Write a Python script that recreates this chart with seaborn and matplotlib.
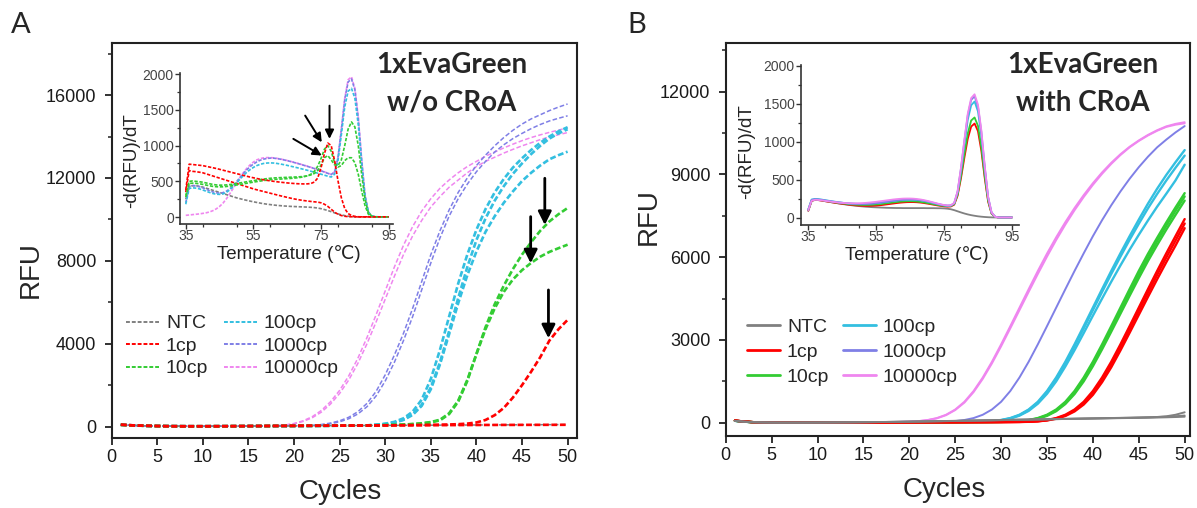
import matplotlib
matplotlib.use("Agg")
import matplotlib.pyplot as plt
import seaborn as sns
import pandas as pd
from matplotlib.lines import Line2D
from matplotlib.ticker import MultipleLocator

sns.set_theme(style="ticks")
plt.rcParams['font.family'] = ['Liberation Sans', 'DejaVu Sans']

# ---------------- data ----------------
cycles = list(range(1, 51))
temps = list(range(35, 96))
samples = ["NTC", "1cp", "10cp", "100cp", "1000cp", "10000cp"]
colors = {"NTC": "#808080", "1cp": "#ff0000", "10cp": "#33cc33",
          "100cp": "#33bfe0", "1000cp": "#7f7fe6", "10000cp": "#ef86ef"}

# panel A amplification (w/o CRoA)
a_ntc = [95, 70, 50, 38, 30, 25, 22, 20, 20, 20,
         21, 22, 24, 26, 28, 30, 32, 34, 36, 38,
         40, 42, 44, 46, 48, 50, 52, 54, 56, 58,
         60, 62, 64, 66, 68, 70, 72, 74, 76, 78,
         80, 82, 84, 86, 88, 90, 92, 94, 96, 100]
a_1cp_neg = [90, 68, 48, 36, 28, 22, 20, 18, 18, 18,
             19, 20, 22, 24, 26, 28, 30, 32, 34, 36,
             38, 40, 42, 44, 46, 48, 50, 52, 55, 58,
             60, 62, 64, 66, 68, 70, 72, 74, 76, 78,
             80, 80, 82, 82, 84, 84, 85, 86, 86, 88]
a_1cp_pos = [90, 68, 48, 36, 28, 22, 20, 18, 18, 18,
             19, 20, 22, 24, 26, 28, 30, 32, 34, 36,
             38, 40, 42, 44, 46, 48, 50, 53, 56, 60,
             64, 68, 73, 78, 84, 92, 102, 118, 145, 200,
             320, 550, 900, 1400, 2000, 2650, 3350, 4150, 4700, 5150]
a_10cp_1 = [85, 64, 46, 34, 27, 22, 19, 17, 17, 17,
            18, 19, 21, 23, 25, 27, 29, 31, 33, 35,
            37, 39, 41, 43, 46, 49, 53, 58, 64, 72,
            82, 96, 118, 150, 205, 300, 600, 1200, 2200, 3500,
            4800, 5900, 6800, 7600, 8300, 8900, 9450, 9900, 10250, 10550]
a_10cp_2 = [85, 64, 46, 34, 27, 22, 19, 17, 17, 17,
            18, 19, 21, 23, 25, 27, 29, 31, 33, 35,
            37, 39, 41, 43, 46, 49, 53, 58, 64, 72,
            84, 100, 125, 160, 220, 330, 640, 1250, 2250, 3500,
            4700, 5700, 6500, 7100, 7550, 7900, 8200, 8430, 8610, 8780]
a_100cp_1 = [88, 66, 47, 35, 27, 22, 19, 17, 16, 16,
             17, 18, 19, 20, 22, 24, 26, 28, 30, 32,
             34, 36, 38, 41, 44, 48, 53, 60, 90, 140,
             230, 400, 720, 1300, 2300, 3700, 5300, 6900, 8300, 9500,
             10500, 11300, 11950, 12500, 12950, 13350, 13700, 14000, 14250, 14450]
a_100cp_2 = [88, 66, 47, 35, 27, 22, 19, 17, 16, 16,
             17, 18, 19, 20, 22, 24, 26, 28, 30, 32,
             34, 36, 38, 41, 44, 48, 52, 58, 82, 125,
             200, 340, 600, 1050, 1900, 3100, 4600, 6200, 7700, 9000,
             10050, 10900, 11600, 12200, 12700, 13150, 13550, 13900, 14150, 14350]
a_100cp_3 = [88, 66, 47, 35, 27, 22, 19, 17, 16, 16,
             17, 18, 19, 20, 22, 24, 26, 28, 30, 32,
             34, 36, 38, 41, 44, 47, 51, 56, 80, 120,
             190, 320, 560, 1000, 1800, 3000, 4450, 5950, 7300, 8450,
             9400, 10150, 10800, 11350, 11850, 12250, 12600, 12900, 13100, 13270]
a_1000cp_1 = [85, 62, 44, 33, 26, 21, 18, 16, 15, 15,
              16, 17, 18, 20, 22, 25, 28, 32, 37, 43,
              50, 60, 100, 170, 280, 450, 720, 1120, 1700, 2500,
              3450, 4500, 5700, 7000, 8300, 9450, 10450, 11300, 12000, 12600,
              13100, 13550, 13950, 14300, 14600, 14850, 15050, 15250, 15420, 15570]
a_1000cp_2 = [85, 62, 44, 33, 26, 21, 18, 16, 15, 15,
              16, 17, 18, 20, 22, 25, 28, 32, 36, 41,
              47, 55, 85, 140, 230, 380, 610, 960, 1480, 2200,
              3100, 4150, 5300, 6600, 7900, 9100, 10150, 11000, 11700, 12300,
              12800, 13250, 13600, 13900, 14150, 14380, 14580, 14750, 14880, 15000]
a_10000cp_1 = [85, 62, 44, 33, 26, 21, 18, 16, 15, 15,
               16, 17, 19, 21, 24, 28, 33, 45, 75, 150,
               280, 480, 780, 1200, 1750, 2450, 3300, 4300, 5400, 6550,
               7700, 8750, 9650, 10400, 11000, 11500, 11900, 12250, 12550, 12800,
               13050, 13250, 13450, 13630, 13800, 13950, 14080, 14200, 14310, 14420]
a_10000cp_2 = [85, 62, 44, 33, 26, 21, 18, 16, 15, 15,
               16, 17, 19, 21, 24, 28, 32, 42, 68, 130,
               250, 430, 700, 1090, 1600, 2250, 3050, 4000, 5050, 6150,
               7250, 8300, 9200, 9950, 10600, 11100, 11550, 11900, 12250, 12550,
               12800, 13000, 13200, 13380, 13550, 13700, 13850, 13980, 14090, 14190]

# panel B amplification (with CRoA)
b_ntc_1 = [70, 40, 20, 12, 8, 6, 6, 6, 7, 8,
           10, 12, 14, 17, 20, 23, 27, 31, 35, 40,
           45, 50, 55, 60, 66, 72, 78, 84, 90, 96,
           102, 108, 114, 120, 126, 132, 138, 144, 150, 156,
           162, 168, 174, 180, 188, 196, 210, 235, 290, 380]
b_ntc_2 = [65, 38, 19, 11, 8, 6, 6, 6, 7, 8,
           10, 12, 14, 17, 20, 23, 27, 31, 35, 40,
           45, 50, 55, 60, 66, 72, 78, 84, 90, 96,
           102, 108, 114, 120, 126, 132, 138, 143, 148, 153,
           158, 163, 168, 173, 178, 184, 190, 198, 208, 220]
b_ntc_3 = [68, 39, 20, 12, 8, 6, 6, 6, 7, 8,
           10, 12, 14, 17, 20, 24, 28, 32, 37, 42,
           47, 52, 58, 64, 70, 76, 82, 88, 94, 100,
           106, 112, 118, 124, 130, 136, 142, 148, 154, 160,
           166, 172, 178, 184, 190, 198, 207, 218, 236, 262]
b_1cp_1 = [80, 45, 22, 12, 7, 5, 4, 4, 4, 5,
           6, 7, 8, 9, 10, 11, 12, 13, 14, 15,
           16, 17, 18, 19, 20, 21, 22, 23, 24, 26,
           28, 32, 40, 60, 100, 170, 290, 480, 760, 1150,
           1640, 2210, 2840, 3500, 4170, 4840, 5500, 6140, 6760, 7380]
b_1cp_2 = [78, 44, 22, 12, 7, 5, 4, 4, 4, 5,
           6, 7, 8, 9, 10, 11, 12, 13, 14, 15,
           16, 17, 18, 19, 20, 21, 22, 23, 24, 25,
           27, 30, 37, 55, 90, 155, 265, 445, 710, 1080,
           1560, 2120, 2740, 3390, 4050, 4710, 5360, 5990, 6600, 7220]
b_1cp_3 = [76, 43, 21, 12, 7, 5, 4, 4, 4, 5,
           6, 7, 8, 9, 10, 11, 12, 13, 14, 15,
           16, 17, 18, 19, 20, 21, 22, 23, 24, 25,
           27, 29, 35, 52, 85, 145, 245, 410, 660, 1010,
           1470, 2010, 2620, 3260, 3910, 4560, 5200, 5820, 6420, 7050]
b_10cp_1 = [75, 42, 21, 12, 7, 5, 4, 4, 4, 5,
            6, 7, 8, 9, 10, 11, 12, 13, 14, 15,
            16, 17, 18, 19, 20, 22, 24, 26, 29, 33,
            40, 60, 100, 170, 290, 480, 760, 1150, 1640, 2210,
            2840, 3500, 4170, 4840, 5500, 6120, 6700, 7260, 7800, 8320]
b_10cp_2 = [74, 42, 21, 12, 7, 5, 4, 4, 4, 5,
            6, 7, 8, 9, 10, 11, 12, 13, 14, 15,
            16, 17, 18, 19, 20, 22, 24, 26, 28, 32,
            38, 55, 92, 158, 270, 450, 720, 1090, 1570, 2130,
            2750, 3400, 4060, 4720, 5370, 5990, 6580, 7140, 7680, 8200]
b_10cp_3 = [73, 41, 20, 12, 7, 5, 4, 4, 4, 5,
            6, 7, 8, 9, 10, 11, 12, 13, 14, 15,
            16, 17, 18, 19, 20, 22, 24, 26, 28, 31,
            36, 52, 86, 148, 250, 420, 680, 1040, 1500, 2050,
            2660, 3300, 3950, 4600, 5240, 5860, 6440, 7000, 7530, 8050]
b_100cp_1 = [72, 40, 20, 11, 7, 5, 4, 4, 4, 5,
             6, 7, 8, 9, 10, 11, 12, 13, 14, 16,
             18, 20, 22, 25, 28, 32, 36, 40, 60, 100,
             170, 290, 480, 760, 1150, 1640, 2210, 2840, 3500, 4170,
             4840, 5500, 6140, 6760, 7360, 7940, 8480, 8980, 9440, 9880]
b_100cp_2 = [72, 40, 20, 11, 7, 5, 4, 4, 4, 5,
             6, 7, 8, 9, 10, 11, 12, 13, 14, 16,
             18, 20, 22, 25, 28, 31, 35, 39, 56, 94,
             160, 275, 460, 730, 1110, 1590, 2150, 2770, 3420, 4080,
             4740, 5390, 6020, 6630, 7210, 7770, 8290, 8780, 9240, 9680]
b_100cp_3 = [71, 39, 20, 11, 7, 5, 4, 4, 4, 5,
             6, 7, 8, 9, 10, 11, 12, 13, 14, 16,
             18, 20, 22, 25, 28, 31, 34, 38, 54, 88,
             150, 258, 430, 690, 1050, 1500, 2040, 2630, 3250, 3880,
             4500, 5110, 5700, 6270, 6810, 7330, 7830, 8300, 8780, 9350]
b_1000cp = [70, 38, 19, 11, 7, 5, 4, 4, 4, 5,
            6, 7, 8, 9, 10, 12, 14, 16, 19, 22,
            26, 30, 34, 40, 60, 100, 170, 290, 480, 760,
            1150, 1640, 2210, 2840, 3500, 4170, 4840, 5500, 6140, 6760,
            7340, 7880, 8380, 8840, 9260, 9640, 9980, 10260, 10520, 10750]
b_10000cp_1 = [90, 50, 24, 13, 8, 6, 5, 5, 5, 6,
               7, 8, 9, 11, 13, 16, 20, 25, 32, 40,
               60, 100, 170, 290, 480, 760, 1150, 1640, 2210, 2840,
               3500, 4170, 4840, 5500, 6130, 6720, 7270, 7780, 8250, 8680,
               9070, 9420, 9730, 10000, 10230, 10430, 10600, 10740, 10830, 10890]
b_10000cp_2 = [85, 48, 23, 13, 8, 6, 5, 5, 5, 6,
               7, 8, 9, 11, 13, 16, 20, 25, 31, 38,
               57, 94, 160, 275, 460, 730, 1110, 1590, 2150, 2770,
               3420, 4080, 4740, 5390, 6020, 6620, 7180, 7700, 8180, 8620,
               9020, 9380, 9700, 9980, 10210, 10410, 10580, 10720, 10800, 10850]

# melt curves, inset A (T = 35..95)
m_a_ntc = [250, 420, 440, 440, 430, 420, 405, 390, 375, 360,
           345, 330, 315, 300, 285, 270, 258, 246, 235, 224,
           214, 205, 196, 188, 181, 175, 169, 164, 160, 156,
           153, 150, 148, 146, 144, 142, 140, 137, 133, 127,
           118, 106, 92, 76, 60, 45, 32, 21, 13, 8,
           5, 3, 3, 3, 3, 3, 3, 3, 3, 3, 3]
m_a_1cp_pos = [380, 740, 735, 730, 725, 720, 710, 700, 690, 680,
               668, 656, 644, 632, 620, 608, 596, 584, 572, 560,
               550, 540, 530, 522, 514, 507, 500, 494, 488, 483,
               478, 474, 470, 467, 465, 464, 465, 470, 490, 545,
               690, 890, 1035, 1000, 790, 510, 270, 120, 50, 22,
               10, 5, 4, 4, 4, 4, 4, 4, 4, 4, 4]
m_a_1cp_neg = [350, 650, 640, 635, 628, 620, 605, 590, 575, 560,
               545, 530, 515, 500, 485, 470, 455, 440, 425, 410,
               395, 382, 370, 358, 346, 334, 322, 310, 298, 287,
               276, 265, 255, 246, 238, 231, 225, 219, 214, 210,
               200, 180, 150, 110, 70, 40, 22, 12, 7, 5,
               4, 4, 4, 4, 4, 4, 4, 4, 4, 4, 4]
m_a_10cp_1 = [300, 500, 505, 500, 495, 488, 478, 467, 457, 450,
              447, 447, 450, 455, 462, 470, 478, 486, 494, 502,
              510, 518, 525, 532, 538, 543, 547, 550, 552, 554,
              556, 558, 560, 562, 565, 570, 578, 590, 610, 650,
              730, 830, 860, 800, 730, 720, 800, 1000, 1230, 1330,
              1260, 1000, 600, 250, 60, 15, 5, 4, 4, 4, 4]
m_a_10cp_2 = [280, 470, 475, 472, 466, 458, 448, 438, 430, 425,
              423, 424, 428, 434, 441, 449, 457, 465, 473, 481,
              489, 497, 504, 511, 517, 522, 526, 529, 532, 535,
              538, 541, 545, 550, 556, 565, 578, 600, 640, 710,
              820, 950, 1000, 920, 760, 700, 720, 790, 830, 830,
              760, 600, 370, 160, 40, 10, 4, 4, 4, 4, 4]
m_a_100cp = [180, 400, 410, 405, 395, 380, 362, 345, 330, 320,
             318, 325, 345, 380, 425, 475, 528, 580, 625, 663,
             695, 720, 738, 750, 756, 758, 756, 750, 742, 733,
             723, 712, 701, 690, 678, 666, 654, 641, 628, 614,
             600, 586, 572, 560, 600, 790, 1150, 1540, 1760, 1800,
             1660, 1290, 750, 280, 65, 15, 5, 4, 4, 4, 4]
m_a_1000cp = [200, 430, 440, 435, 425, 410, 390, 370, 352, 340,
              336, 342, 362, 395, 440, 495, 552, 608, 660, 705,
              742, 772, 795, 810, 820, 825, 824, 818, 810, 800,
              789, 777, 764, 751, 737, 723, 709, 694, 679, 663,
              647, 630, 612, 595, 630, 830, 1220, 1640, 1890, 1930,
              1780, 1380, 800, 300, 70, 15, 5, 4, 4, 4, 4]
m_a_10000cp = [25, 30, 35, 40, 45, 52, 60, 72, 90, 115,
               150, 195, 255, 325, 400, 475, 550, 620, 680, 730,
               770, 800, 818, 828, 832, 832, 828, 821, 812, 802,
               791, 779, 766, 753, 739, 725, 711, 696, 681, 665,
               649, 632, 614, 597, 632, 835, 1230, 1660, 1920, 1960,
               1800, 1400, 810, 305, 72, 15, 5, 4, 4, 4, 4]

# melt curves, inset B
m_b_ntc = [90, 220, 235, 232, 226, 218, 210, 202, 195, 188,
           181, 175, 169, 163, 158, 153, 149, 145, 142, 139,
           137, 135, 133, 131, 130, 129, 128, 128, 127, 127,
           127, 127, 127, 127, 127, 126, 126, 126, 125, 125,
           123, 119, 112, 100, 85, 70, 56, 44, 34, 26,
           19, 14, 10, 7, 5, 4, 4, 4, 4, 4, 4]
m_b_1cp = [95, 225, 235, 232, 226, 218, 211, 204, 197, 190,
           184, 178, 172, 167, 163, 160, 158, 157, 157, 158,
           160, 164, 169, 175, 181, 187, 193, 198, 202, 205,
           206, 206, 204, 200, 194, 187, 179, 171, 163, 156,
           150, 146, 148, 172, 290, 520, 790, 1040, 1200, 1240,
           1140, 880, 520, 210, 55, 12, 4, 4, 4, 4, 4]
m_b_10cp = [100, 230, 240, 237, 231, 223, 216, 209, 202, 196,
            190, 184, 179, 175, 172, 170, 169, 169, 170, 172,
            175, 179, 184, 190, 196, 202, 207, 212, 215, 217,
            218, 217, 214, 209, 203, 195, 187, 178, 170, 162,
            156, 152, 154, 180, 305, 550, 840, 1110, 1280, 1320,
            1210, 930, 550, 225, 58, 13, 4, 4, 4, 4, 4]
m_b_100cp = [110, 240, 248, 245, 239, 231, 224, 217, 210, 204,
             198, 193, 189, 186, 184, 183, 183, 184, 186, 189,
             193, 198, 203, 209, 215, 221, 226, 231, 235, 237,
             238, 237, 234, 229, 222, 213, 203, 192, 181, 171,
             163, 158, 160, 188, 330, 620, 960, 1290, 1480, 1530,
             1400, 1080, 640, 260, 67, 15, 4, 4, 4, 4, 4]
m_b_1000cp = [105, 235, 244, 241, 235, 228, 221, 214, 208, 202,
              197, 192, 188, 185, 183, 182, 182, 183, 185, 188,
              192, 197, 203, 209, 216, 222, 228, 233, 237, 240,
              241, 240, 237, 232, 225, 216, 206, 195, 184, 174,
              165, 160, 162, 192, 345, 650, 1010, 1350, 1550, 1600,
              1465, 1130, 670, 272, 70, 15, 4, 4, 4, 4, 4]
m_b_10000cp = [100, 225, 236, 234, 229, 222, 216, 210, 205, 200,
               196, 193, 191, 190, 190, 191, 193, 196, 200, 205,
               210, 216, 222, 228, 234, 240, 245, 249, 252, 253,
               253, 251, 247, 241, 233, 223, 212, 200, 188, 177,
               168, 162, 164, 195, 350, 660, 1025, 1370, 1575, 1625,
               1490, 1150, 680, 276, 71, 15, 4, 4, 4, 4, 4]

amp_a = [("10000cp", 1, a_10000cp_1), ("10000cp", 2, a_10000cp_2),
         ("1000cp", 1, a_1000cp_1), ("1000cp", 2, a_1000cp_2),
         ("NTC", 1, a_ntc),
         ("100cp", 1, a_100cp_1), ("100cp", 2, a_100cp_2), ("100cp", 3, a_100cp_3),
         ("10cp", 1, a_10cp_1), ("10cp", 2, a_10cp_2),
         ("1cp", 1, a_1cp_pos), ("1cp", 2, a_1cp_neg)]
amp_b = [("10000cp", 1, b_10000cp_1), ("10000cp", 2, b_10000cp_2),
         ("1000cp", 1, b_1000cp),
         ("100cp", 1, b_100cp_1), ("100cp", 2, b_100cp_2), ("100cp", 3, b_100cp_3),
         ("10cp", 1, b_10cp_1), ("10cp", 2, b_10cp_2), ("10cp", 3, b_10cp_3),
         ("1cp", 1, b_1cp_1), ("1cp", 2, b_1cp_2), ("1cp", 3, b_1cp_3),
         ("NTC", 1, b_ntc_1), ("NTC", 2, b_ntc_2), ("NTC", 3, b_ntc_3)]
melt_a = [("NTC", 1, m_a_ntc), ("1cp", 1, m_a_1cp_neg), ("10000cp", 1, m_a_10000cp),
          ("1000cp", 1, m_a_1000cp), ("100cp", 1, m_a_100cp),
          ("10cp", 1, m_a_10cp_1), ("10cp", 2, m_a_10cp_2), ("1cp", 2, m_a_1cp_pos)]
melt_b = [("NTC", 1, m_b_ntc), ("1cp", 1, m_b_1cp), ("10cp", 1, m_b_10cp),
          ("100cp", 1, m_b_100cp), ("1000cp", 1, m_b_1000cp), ("10000cp", 1, m_b_10000cp)]


def long_frame(curves, xs):
    rows = []
    for order, (sample, rep, vals) in enumerate(curves):
        for x, v in zip(xs, vals):
            rows.append((order, sample, rep, x, v))
    return pd.DataFrame(rows, columns=["order", "sample", "rep", "x", "y"])


def draw_curves(ax, df, lw_of, ls_of):
    # one seaborn call per trace so the drawing order follows the list
    for order, sub in df.groupby("order", sort=True):
        s = sub["sample"].iloc[0]
        sns.lineplot(data=sub, x="x", y="y", estimator=None, color=colors[s],
                     lw=lw_of(s), linestyle=ls_of(s), ax=ax, legend=False)


# ---------------- figure ----------------
fig = plt.figure(figsize=(11.97, 5.08), dpi=100)
axA = fig.add_axes([0.0933, 0.1378, 0.3885, 0.777])
axB = fig.add_axes([0.6063, 0.1417, 0.3880, 0.7731])

thin = {"NTC", "1000cp", "10000cp"}
draw_curves(axA, long_frame(amp_a, cycles),
            lambda s: 1.1 if s in thin else 1.9,
            lambda s: (0, (3, 1.5)) if s in thin else (0, (2.2, 1)))
draw_curves(axB, long_frame(amp_b, cycles),
            lambda s: 1.4 if s in thin else 1.7,
            lambda s: "-")

for ax, ylim, major in [(axA, (-550, 18500), 4000), (axB, (-480, 13750), 3000)]:
    ax.set_ylim(*ylim)
    ax.yaxis.set_major_locator(MultipleLocator(major))
    ax.yaxis.set_minor_locator(MultipleLocator(major / 2))
    ax.xaxis.set_major_locator(MultipleLocator(5))
    ax.set_xlabel("")
    ax.set_ylabel("")
    for sp in ax.spines.values():
        sp.set_linewidth(1.5)
        sp.set_color("#222222")
    ax.tick_params(axis="both", which="major", length=5, width=1.3,
                   labelsize=13, color="#222222", labelcolor="#1a1a1a")
    ax.tick_params(axis="y", which="major", pad=6)
    ax.tick_params(axis="x", which="major", pad=3)
    ax.tick_params(axis="y", which="minor", length=3, width=1.1, color="#222222")
axA.set_xlim(0, 51)
axB.set_xlim(0, 50.6)

# legends
def legend_handles(ls, lw):
    return [Line2D([0], [0], color=colors[s], lw=lw, linestyle=ls) for s in samples]

axA.legend(legend_handles((0, (2, 1)), 1.4), samples, ncol=2, loc="upper left",
           bbox_to_anchor=(0.031, 0.312), frameon=False, fontsize=14,
           handlelength=1.7, handletextpad=0.35, columnspacing=0.8,
           labelspacing=0.25, borderpad=0, borderaxespad=0)
axB.legend(legend_handles("-", 2.0), samples, ncol=2, loc="upper left",
           bbox_to_anchor=(0.046, 0.300), frameon=False, fontsize=14,
           handlelength=1.7, handletextpad=0.35, columnspacing=0.7,
           labelspacing=0.38, borderpad=0, borderaxespad=0)

# arrows on panel A
arrow_main = dict(arrowstyle="-|>", lw=2.0, color="black", mutation_scale=20,
                  shrinkA=0, shrinkB=0)
for x, y0, y1 in [(47.5, 11985, 9732), (45.95, 10133, 7884), (47.9, 6596, 4265)]:
    axA.annotate("", xy=(x, y1), xytext=(x, y0), arrowprops=arrow_main)

# insets
insA = fig.add_axes([0.1504, 0.5585, 0.178, 0.2972], facecolor="none")
insB = fig.add_axes([0.669, 0.557, 0.1826, 0.315], facecolor="none")
draw_curves(insA, long_frame(melt_a, temps), lambda s: 1.2, lambda s: (0, (2, 1)))
draw_curves(insB, long_frame(melt_b, temps), lambda s: 1.3, lambda s: "-")

for ins, xlim, ylim, xl, yl in [(insA, (33.3, 96.3), (-100, 2010), (0.509, -0.2), (-0.225, 0.42)),
                                (insB, (32.8, 97.2), (-96, 2010), (0.532, -0.19), (-0.246, 0.46))]:
    ins.set_xlim(*xlim)
    ins.set_ylim(*ylim)
    ins.set_xticks([35, 55, 75, 95])
    ins.xaxis.set_minor_locator(MultipleLocator(10))
    ins.yaxis.set_major_locator(MultipleLocator(500))
    ins.yaxis.set_minor_locator(MultipleLocator(250))
    ins.spines["top"].set_visible(False)
    ins.spines["right"].set_visible(False)
    for sp in ("left", "bottom"):
        ins.spines[sp].set_linewidth(1.2)
        ins.spines[sp].set_color("#333333")
    ins.tick_params(which="major", length=3.5, width=1.0, labelsize=10, pad=1,
                    color="#333333", labelcolor="#444444")
    ins.tick_params(axis="x", which="major", pad=0)
    ins.tick_params(which="minor", length=2.5, width=0.9, color="#333333")
    ins.set_xlabel("")
    ins.set_ylabel("")
    ins.text(xl[0], xl[1], "Temperature (℃)", transform=ins.transAxes,
             ha="center", va="center", fontsize=13.5, color="#222222")
    ins.text(yl[0], yl[1], "-d(RFU)/dT", transform=ins.transAxes, rotation=90,
             ha="center", va="center", fontsize=13.5, color="#222222")

arrow_ins = dict(arrowstyle="-|>", lw=1.4, color="black", mutation_scale=13,
                 shrinkA=0, shrinkB=0)
for x0, y0, x1, y1 in [(77.5, 1558, 77.5, 1094), (70.3, 1419, 75.2, 1046),
                       (66.8, 1094, 75.2, 861)]:
    insA.annotate("", xy=(x1, y1), xytext=(x0, y0), arrowprops=arrow_ins)

# axis titles and panel text
W, H = 1197.0, 508.0
def ftext(px, py, s, **kw):
    fig.text(px / W, 1 - py / H, s, ha="center", va="center", **kw)

ftext(340, 492, "Cycles", fontsize=20)
ftext(944, 490, "Cycles", fontsize=20)
ftext(31, 270, "RFU", fontsize=20, rotation=90)
ftext(649, 217, "RFU", fontsize=20, rotation=90)
bold = dict(fontsize=20, fontweight="bold", family=["Lato", "DejaVu Sans"])
ftext(452, 65, "1xEvaGreen", **bold)
ftext(452, 103, "w/o CRoA", **bold)
ftext(1083, 65, "1xEvaGreen", **bold)
ftext(1083, 103, "with CRoA", **bold)
ftext(21, 25, "A", fontsize=21, family=["Lato", "DejaVu Sans"])
ftext(637, 25, "B", fontsize=21, family=["Lato", "DejaVu Sans"])

fig.savefig("out.png", dpi=100)
